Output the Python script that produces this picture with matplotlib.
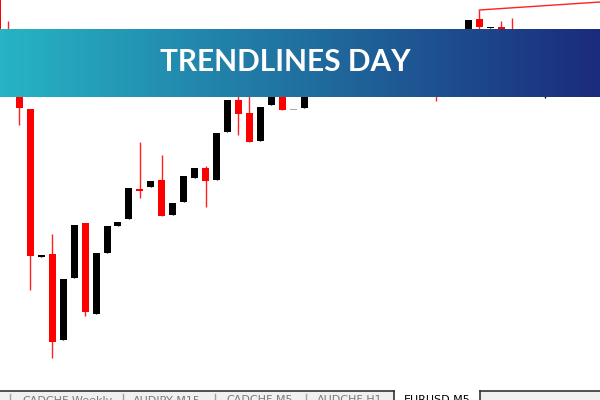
import numpy as np
import matplotlib.pyplot as plt
from matplotlib.colors import LinearSegmentedColormap
from matplotlib.patches import Rectangle

# EURUSD M5 candles (indices 29-42 and 48-50 sit mostly behind the banner)
opens = [1.08415, 1.08360, 1.08340, 1.08291, 1.08143, 1.08146, 1.08060, 1.08122,
         1.08177, 1.08086, 1.08147, 1.08174, 1.08181, 1.08211, 1.08213, 1.08220,
         1.08185, 1.08198, 1.08222, 1.08232, 1.08220, 1.08268, 1.08300, 1.08287,
         1.08259, 1.08295, 1.08315, 1.08290, 1.08292, 1.08314, 1.08325, 1.08316,
         1.08336, 1.08342, 1.08330, 1.08340, 1.08350, 1.08342, 1.08352, 1.08345,
         1.08326, 1.08310, 1.08336, 1.08360, 1.08381, 1.08372, 1.08373, 1.08365,
         1.08340, 1.08345, 1.08330]
highs = [1.08420, 1.08379, 1.08350, 1.08291, 1.08145, 1.08166, 1.08121, 1.08175,
         1.08177, 1.08147, 1.08174, 1.08178, 1.08212, 1.08258, 1.08219, 1.08245,
         1.08197, 1.08224, 1.08232, 1.08234, 1.08267, 1.08300, 1.08310, 1.08320,
         1.08293, 1.08312, 1.08320, 1.08290, 1.08315, 1.08330, 1.08332, 1.08340,
         1.08345, 1.08348, 1.08344, 1.08352, 1.08356, 1.08355, 1.08358, 1.08350,
         1.08335, 1.08340, 1.08358, 1.08380, 1.08390, 1.08373, 1.08379, 1.08382,
         1.08348, 1.08350, 1.08345]
lows = [1.08335, 1.08325, 1.08275, 1.08110, 1.08143, 1.08042, 1.08060, 1.08122,
        1.08084, 1.08086, 1.08147, 1.08174, 1.08181, 1.08202, 1.08213, 1.08184,
        1.08185, 1.08198, 1.08222, 1.08193, 1.08220, 1.08268, 1.08265, 1.08258,
        1.08259, 1.08295, 1.08290, 1.08290, 1.08292, 1.08310, 1.08312, 1.08314,
        1.08330, 1.08326, 1.08328, 1.08336, 1.08338, 1.08340, 1.08340, 1.08320,
        1.08299, 1.08308, 1.08332, 1.08358, 1.08360, 1.08372, 1.08350, 1.08335,
        1.08330, 1.08325, 1.08302]
closes = [1.08340, 1.08330, 1.08292, 1.08144, 1.08145, 1.08058, 1.08121, 1.08175,
          1.08088, 1.08147, 1.08174, 1.08178, 1.08212, 1.08209, 1.08219, 1.08184,
          1.08197, 1.08224, 1.08232, 1.08219, 1.08267, 1.08300, 1.08286, 1.08258,
          1.08293, 1.08312, 1.08290, 1.08290, 1.08315, 1.08325, 1.08316, 1.08336,
          1.08342, 1.08330, 1.08340, 1.08350, 1.08342, 1.08352, 1.08345, 1.08326,
          1.08310, 1.08336, 1.08355, 1.08380, 1.08373, 1.08373, 1.08355, 1.08340,
          1.08345, 1.08330, 1.08340]

# trendline drawn from the high of bar 44
trend_x = [44, 55.02]
trend_y = [1.08390, 1.08398]

tabs = ["CADCHF,Weekly", "AUDJPY,M15", "CADCHF,M5", "AUDCHF,H1", "EURUSD,M5"]
title = "TRENDLINES DAY"

fig = plt.figure(figsize=(6, 4), dpi=100)
fig.patch.set_facecolor("white")
ax = fig.add_axes([0, 0, 1, 1])

o = np.array(opens)
h = np.array(highs)
l = np.array(lows)
c = np.array(closes)
idx = np.arange(len(o))

colors = np.where(c > o, "black", np.where(c < o, "#ff0000", "#a8a8a8"))
wick_colors = np.where(c < o, "#ff2020", "black")

ax.vlines(idx, l, h, colors=wick_colors, linewidth=1.0, zorder=1)
bottom = np.minimum(o, c)
height = np.maximum(np.abs(c - o), 0.000012)
ax.bar(idx, height, bottom=bottom, width=0.64, color=colors,
       linewidth=0, zorder=2)

ax.plot(trend_x, trend_y, color="#ff2020", linewidth=1.0, zorder=3)

ax.set_xlim(0.228, 55.02)
ax.set_ylim(1.08000, 1.08400)
ax.axis("off")

# gradient banner
ax_b = fig.add_axes([0, 1 - 97 / 400, 1, 68 / 400])
cmap = LinearSegmentedColormap.from_list("banner", ["#27b4c5", "#2070a0", "#1b2b7d"])
ax_b.imshow(np.linspace(0, 1, 256).reshape(1, -1), cmap=cmap, aspect="auto",
            extent=[0, 1, 0, 1])
ax_b.set_xlim(0, 1)
ax_b.set_ylim(0, 1)
ax_b.axis("off")
ax_b.text(0.475, 0.385, title, color="white", fontsize=21.5, fontweight="bold",
          family="Lato", ha="center", va="baseline")

# terminal tab bar at the bottom
bar_y = 9 / 400
fig.add_artist(Rectangle((0, 0), 1, bar_y, transform=fig.transFigure,
                         facecolor="#f0f0f0", edgecolor="none", zorder=5))
fig.add_artist(Rectangle((394 / 600, 0), 86 / 600, bar_y, transform=fig.transFigure,
                         facecolor="white", edgecolor="none", zorder=6))
fig.add_artist(plt.Line2D([0, 394 / 600], [bar_y, bar_y], transform=fig.transFigure,
                          color="#333333", linewidth=1.2, zorder=7))
fig.add_artist(plt.Line2D([480 / 600, 1], [bar_y, bar_y], transform=fig.transFigure,
                          color="#333333", linewidth=1.2, zorder=7))
for sx in [10, 123, 215, 306]:
    fig.add_artist(plt.Line2D([sx / 600, sx / 600], [0, bar_y * 0.7],
                              transform=fig.transFigure, color="#a0a0a0",
                              linewidth=1, zorder=7))
for sx in [394, 480]:
    fig.add_artist(plt.Line2D([sx / 600, sx / 600], [0, bar_y],
                              transform=fig.transFigure, color="#333333",
                              linewidth=1.2, zorder=7))

tab_x = [22, 133, 226, 317, 404]
for i, (tx, label) in enumerate(zip(tab_x, tabs)):
    active = i == len(tabs) - 1
    fig.text(tx / 600, 4.5 / 400, label, fontsize=8, family="DejaVu Sans",
             color="black" if active else "#7a7a7a", ha="left", va="top",
             zorder=8)

fig.savefig("out.png", dpi=100)
